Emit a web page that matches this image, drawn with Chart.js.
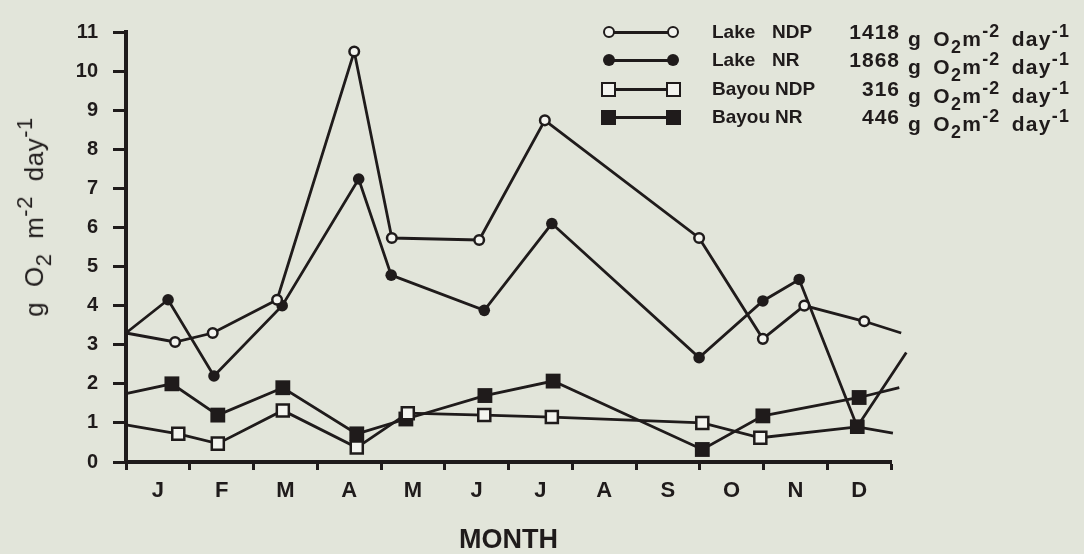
<!DOCTYPE html>
<html>
<head>
<meta charset="utf-8">
<script src="https://cdn.jsdelivr.net/npm/chart.js@4.4.1/dist/chart.umd.min.js"></script>
<style>
    body { margin: 0; background: #e2e5da; font-family: "Liberation Sans", Arial, sans-serif; color: #1f1b1b; }
    #wrap { position: relative; width: 1084px; height: 554px; }
    #o2Chart { position: absolute; left: 0; top: 0; }

    .ytitle {
        position: absolute; left: 34px; top: 217px;
        transform: translate(-50%, -50%) rotate(-90deg);
        font-size: 26px; white-space: nowrap; word-spacing: 7px; letter-spacing: 0.5px;
    }
    .ytitle sub, .legend sub { font-size: 0.85em; position: relative; top: 0.1em; }
    .ytitle sup, .legend sup { font-size: 0.85em; position: relative; top: -0.05em; }

    .legend .row { position: absolute; left: 0; width: 1084px; height: 0; }
    .legend .line { position: absolute; left: 609px; width: 64px; top: -1px; height: 3px; background: #1f1b1b; }
    .legend .mk { position: absolute; box-sizing: border-box; background: #1f1b1b; }
    .legend .circle { width: 12px; height: 12px; top: -6px; border-radius: 50%; }
    .legend .square { width: 15px; height: 15px; top: -7px; }
    .legend .open { background: #f3f4ef; border: 2.5px solid #1f1b1b; }
    .legend .txt { position: absolute; top: -12px; font-size: 19px; font-weight: bold; line-height: 24px; white-space: nowrap; }
    .legend .num { right: 184px; font-size: 21px; letter-spacing: 1px; }
    .legend .unit { left: 908px; font-size: 21px; letter-spacing: 1.3px; word-spacing: 4px; }
</style>
</head>
<body>
<div id="wrap">
    <canvas id="o2Chart" width="1084" height="554"></canvas>

    <div class="ytitle">g O<sub>2</sub> m<sup>-2</sup> day<sup>-1</sup></div>

    <div class="legend">
        <div class="row" style="top:32px">
            <span class="line"></span>
            <span class="mk circle open" style="left:603px"></span>
            <span class="mk circle open" style="left:667px"></span>
            <span class="txt" style="left:712px">Lake</span>
            <span class="txt" style="left:772px">NDP</span>
            <span class="txt num">1418</span>
            <span class="txt unit">g O<sub>2</sub>m<sup>-2</sup> day<sup>-1</sup></span>
        </div>
        <div class="row" style="top:60px">
            <span class="line"></span>
            <span class="mk circle" style="left:603px"></span>
            <span class="mk circle" style="left:667px"></span>
            <span class="txt" style="left:712px">Lake</span>
            <span class="txt" style="left:772px">NR</span>
            <span class="txt num">1868</span>
            <span class="txt unit">g O<sub>2</sub>m<sup>-2</sup> day<sup>-1</sup></span>
        </div>
        <div class="row" style="top:89px">
            <span class="line"></span>
            <span class="mk square open" style="left:601px"></span>
            <span class="mk square open" style="left:666px"></span>
            <span class="txt" style="left:712px">Bayou</span>
            <span class="txt" style="left:775px">NDP</span>
            <span class="txt num">316</span>
            <span class="txt unit">g O<sub>2</sub>m<sup>-2</sup> day<sup>-1</sup></span>
        </div>
        <div class="row" style="top:117px">
            <span class="line"></span>
            <span class="mk square" style="left:601px"></span>
            <span class="mk square" style="left:666px"></span>
            <span class="txt" style="left:712px">Bayou</span>
            <span class="txt" style="left:775px">NR</span>
            <span class="txt num">446</span>
            <span class="txt unit">g O<sub>2</sub>m<sup>-2</sup> day<sup>-1</sup></span>
        </div>
    </div>
</div>

<script>
var monthLabels = ["J", "F", "M", "A", "M", "J", "J", "A", "S", "O", "N", "D"];

// sampling position in months from 1 January, and g O2 m-2 day-1
var lakeNdpMonth = [0, 0.77, 1.36, 2.37, 3.58, 4.17, 5.54, 6.57, 8.99, 9.99, 10.64, 11.58, 12.16];
var lakeNdpValue = [3.3, 3.07, 3.3, 4.15, 10.5, 5.73, 5.68, 8.74, 5.73, 3.15, 4.0, 3.6, 3.3];

var lakeNrMonth = [0, 0.66, 1.38, 2.45, 3.65, 4.16, 5.62, 6.68, 8.99, 9.99, 10.56, 11.47, 12.24];
var lakeNrValue = [3.3, 4.15, 2.2, 4.0, 7.24, 4.78, 3.88, 6.1, 2.67, 4.12, 4.67, 0.9, 2.8];

var bayouNdpMonth = [0, 0.82, 1.44, 2.46, 3.62, 4.42, 5.62, 6.68, 9.04, 9.95, 11.47, 12.03];
var bayouNdpValue = [0.95, 0.72, 0.47, 1.32, 0.37, 1.25, 1.2, 1.15, 1.0, 0.62, 0.9, 0.74];

var bayouNrMonth = [0, 0.72, 1.44, 2.46, 3.62, 4.39, 5.63, 6.7, 9.04, 9.99, 11.5, 12.13];
var bayouNrValue = [1.75, 2.0, 1.2, 1.9, 0.72, 1.1, 1.7, 2.07, 0.32, 1.18, 1.65, 1.9];

var ink = "#1f1b1b";
var hollow = "#f3f4ef";

function toPoints(months, values) {
    return months.map(function (m, i) {
        return { x: m, y: values[i] };
    });
}

// the lines run in from the axis and out past December without a marker
function markerRadius(r, count) {
    return function (ctx) {
        return (ctx.dataIndex === 0 || ctx.dataIndex === count - 1) ? 0 : r;
    };
}

var chart = document.getElementById("o2Chart");

new Chart(chart, {
    type: "line",
    data: {
        datasets: [
            {
                label: "Lake NDP",
                data: toPoints(lakeNdpMonth, lakeNdpValue),
                borderColor: ink,
                borderWidth: 2.8,
                pointStyle: "circle",
                pointRadius: markerRadius(4.8, lakeNdpMonth.length),
                pointBorderWidth: 2.5,
                pointBorderColor: ink,
                pointBackgroundColor: hollow
            },
            {
                label: "Lake NR",
                data: toPoints(lakeNrMonth, lakeNrValue),
                borderColor: ink,
                borderWidth: 2.8,
                pointStyle: function (ctx) { return ctx.dataIndex === 11 ? "rect" : "circle"; },
                pointRadius: function (ctx) {
                    if (ctx.dataIndex === 11) return 10;
                    return markerRadius(5.8, lakeNrMonth.length)(ctx);
                },
                pointBorderWidth: 0,
                pointBackgroundColor: ink
            },
            {
                label: "Bayou NDP",
                data: toPoints(bayouNdpMonth, bayouNdpValue),
                borderColor: ink,
                borderWidth: 2.8,
                pointStyle: "rect",
                pointRadius: markerRadius(8.5, bayouNdpMonth.length),
                pointBorderWidth: 2.5,
                pointBorderColor: ink,
                pointBackgroundColor: hollow
            },
            {
                label: "Bayou NR",
                data: toPoints(bayouNrMonth, bayouNrValue),
                borderColor: ink,
                borderWidth: 2.8,
                pointStyle: "rect",
                pointRadius: markerRadius(10.5, bayouNrMonth.length),
                pointBorderWidth: 0,
                pointBackgroundColor: ink
            }
        ]
    },
    options: {
        responsive: false,
        animation: false,
        clip: false,
        layout: {
            padding: { top: 32, right: 193, bottom: 0, left: 0 }
        },
        elements: {
            line: { tension: 0 }
        },
        plugins: {
            legend: { display: false },
            tooltip: { enabled: false }
        },
        scales: {
            x: {
                type: "linear",
                min: 0,
                max: 12,
                afterFit: function (scale) { scale.height = 92; },
                ticks: {
                    stepSize: 0.5,
                    autoSkip: false,
                    maxRotation: 0,
                    maxTicksLimit: 30,
                    padding: 8,
                    color: ink,
                    font: { family: "Liberation Sans", size: 22, weight: "bold" },
                    callback: function (value) {
                        return Number.isInteger(value) ? "" : monthLabels[Math.floor(value)];
                    }
                },
                grid: {
                    drawOnChartArea: false,
                    tickLength: 8,
                    tickWidth: 3,
                    tickColor: function (ctx) {
                        return ctx.tick && Number.isInteger(ctx.tick.value) ? ink : "rgba(0,0,0,0)";
                    }
                },
                border: { color: ink, width: 4 },
                title: {
                    display: true,
                    text: "MONTH",
                    color: ink,
                    font: { family: "Liberation Sans", size: 27, weight: "bold", lineHeight: 1 },
                    padding: { top: 0, bottom: 0 }
                }
            },
            y: {
                min: 0,
                max: 11,
                afterFit: function (scale) { scale.width = 126; },
                ticks: {
                    stepSize: 1,
                    padding: 15,
                    color: ink,
                    font: { family: "Liberation Sans", size: 20, weight: "bold" }
                },
                grid: {
                    drawOnChartArea: false,
                    tickLength: 13,
                    tickWidth: 3,
                    tickColor: ink
                },
                border: { color: ink, width: 4 }
            }
        }
    }
});
</script>
</body>
</html>
